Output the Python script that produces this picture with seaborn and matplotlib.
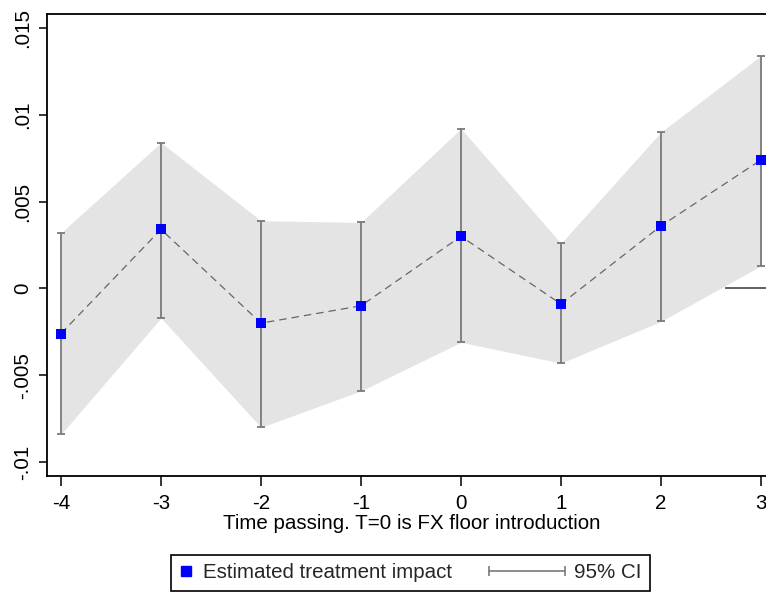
import numpy as np
import pandas as pd
import matplotlib
matplotlib.use("Agg")
import matplotlib.pyplot as plt
import seaborn as sns
from matplotlib.lines import Line2D
from matplotlib.legend_handler import HandlerLine2D

# ---- data ----
periods = [-4, -3, -2, -1, 0, 1, 2, 3]
estimate = [-0.0026, 0.0034, -0.0020, -0.0010, 0.0030, -0.0009, 0.0036, 0.0074]
ci_low = [-0.0084, -0.0017, -0.0080, -0.0059, -0.0031, -0.0043, -0.0019, 0.0013]
ci_high = [0.0032, 0.0084, 0.0039, 0.0038, 0.0092, 0.0026, 0.0090, 0.0134]
y_ticks = [-0.01, -0.005, 0, 0.005, 0.01, 0.015]
y_tick_labels = ["-.01", "-.005", "0", ".005", ".01", ".015"]
x_label = "Time passing. T=0 is FX floor introduction"
legend_labels = ["Estimated treatment impact", "95% CI"]

df = pd.DataFrame({"t": periods, "est": estimate, "lo": ci_low, "hi": ci_high})

sns.set_theme(style="white")
plt.rcParams["font.family"] = ["Liberation Sans", "DejaVu Sans"]
FS = 14.8

fig = plt.figure(figsize=(7.66, 5.96), dpi=100)
ax = fig.add_axes([47 / 766, 120 / 596, 729 / 766, 462 / 596])

ax.fill_between(df["t"], df["lo"], df["hi"], color="#e4e4e4", linewidth=0, zorder=1)
ax.errorbar(df["t"], df["est"],
            yerr=[df["est"] - df["lo"], df["hi"] - df["est"]],
            fmt="none", ecolor="#7a7a7a", elinewidth=1.3, capsize=3, capthick=1.3, zorder=2)
sns.lineplot(data=df, x="t", y="est", ax=ax, color="#666666", linewidth=0.9,
             linestyle=(0, (6, 4)), zorder=3)
sns.scatterplot(data=df, x="t", y="est", ax=ax, marker="s", s=60, color="#0000ff",
                edgecolor="#0000ff", linewidth=0, zorder=4)
ax.hlines(0, 2.64, 3.3, color="#555555", linewidth=1.3, zorder=2)

ax.set_xlim(-4.14, 3.15)
ax.set_ylim(-0.0108, 0.0158)
ax.set_xticks(periods)
ax.set_xticklabels([str(p) for p in periods])
ax.set_yticks(y_ticks)
ax.set_yticklabels(y_tick_labels, rotation=90, va="center")
ax.tick_params(axis="both", direction="out", width=1.1, color="black",
               labelsize=FS, labelcolor="black", bottom=True, left=True)
ax.tick_params(axis="y", length=5.5, pad=5)
ax.tick_params(axis="x", length=7, pad=6)
ax.set_xlabel(x_label, fontsize=FS, color="black", labelpad=1)
ax.set_ylabel("")
for side in ["left", "top", "bottom"]:
    ax.spines[side].set_visible(True)
    ax.spines[side].set_color("black")
    ax.spines[side].set_linewidth(1.3)
ax.spines["right"].set_visible(False)
ax.grid(False)


class SquareHandler(HandlerLine2D):
    def create_artists(self, legend, orig_handle, xdescent, ydescent, width, height, fontsize, trans):
        y = (height - ydescent) / 2
        m = Line2D([-xdescent + width * 0.4], [y], marker="s", markersize=6.5,
                   color="#0000ff", linestyle="none", transform=trans)
        return [m]


class CIHandler(HandlerLine2D):
    def create_artists(self, legend, orig_handle, xdescent, ydescent, width, height, fontsize, trans):
        y = (height - ydescent) / 2
        x1 = -xdescent + width - 0.1 * fontsize
        x0 = x1 - 3.7 * fontsize
        ln = Line2D([x0, x1], [y, y], color="#7a7a7a", linewidth=1.2, transform=trans)
        caps = Line2D([x0, x1], [y, y], color="#7a7a7a", marker="|", markersize=7,
                      markeredgewidth=1.2, linestyle="none", transform=trans)
        return [ln, caps]


h_est = Line2D([], [], marker="s", color="#0000ff", linestyle="none")
h_ci = Line2D([], [], color="#7a7a7a")
leg = fig.legend([h_est, h_ci], legend_labels, loc="center",
                 bbox_to_anchor=(410.5 / 766, 23 / 596), ncol=2, fontsize=FS,
                 frameon=True, fancybox=False, edgecolor="black", framealpha=1,
                 handlelength=0.8, handletextpad=0.35, columnspacing=4.8,
                 borderpad=0.42, borderaxespad=0,
                 handler_map={h_est: SquareHandler(), h_ci: CIHandler()})
leg.get_frame().set_linewidth(1.2)

fig.savefig("out.png", dpi=100)
